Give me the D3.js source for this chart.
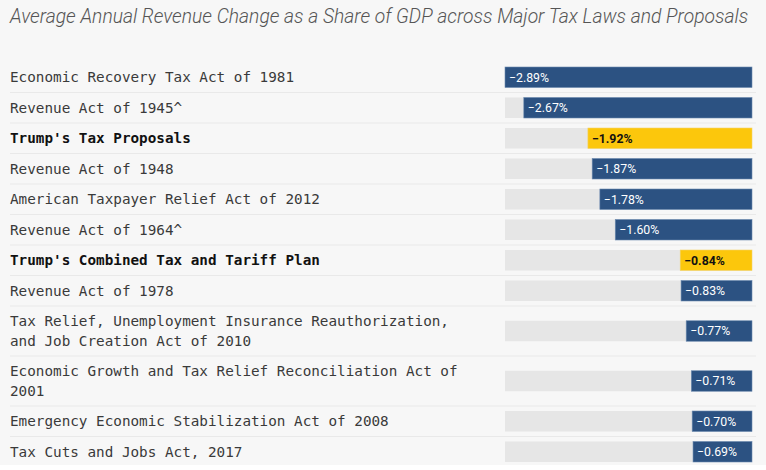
<!DOCTYPE html>
<html>
<head>
<meta charset="utf-8">
<script src="https://cdn.jsdelivr.net/npm/d3@7"></script>
<style>
  body { margin: 0; background: #fff; }
  #chart { background: #f7f7f7; width: 766px; }
  svg { display: block; }
  .title { font-family: Roboto, sans-serif; font-style: italic; font-weight: 300; fill: #555; }
  .label { font-family: "DejaVu Sans Mono", monospace; fill: #3a3a3a; }
  .label.is-trump { font-weight: bold; fill: #111; }
  .value { font-family: Roboto, sans-serif; font-size: 12.3px; }
</style>
</head>
<body>
<div id="chart"></div>
<script>
const laws = [
  "Economic Recovery Tax Act of 1981",
  "Revenue Act of 1945^",
  "Trump's Tax Proposals",
  "Revenue Act of 1948",
  "American Taxpayer Relief Act of 2012",
  "Revenue Act of 1964^",
  "Trump's Combined Tax and Tariff Plan",
  "Revenue Act of 1978",
  "Tax Relief, Unemployment Insurance Reauthorization, and Job Creation Act of 2010",
  "Economic Growth and Tax Relief Reconciliation Act of 2001",
  "Emergency Economic Stabilization Act of 2008",
  "Tax Cuts and Jobs Act, 2017",
];
const changes = [-2.89, -2.67, -1.92, -1.87, -1.78, -1.6, -0.84, -0.83, -0.77, -0.71, -0.7, -0.69];
const trumpRows = ["Trump's Tax Proposals", "Trump's Combined Tax and Tariff Plan"];

const width = 766;
const height = 465;
const margin = { top: 62, left: 10, right: 14 };
const labelWidth = 462;
const lineHeight = 19.5;
const fontSize = 14.3;

const data = laws.map((name, i) => ({ name, value: changes[i], trump: trumpRows.includes(name) }));

const svg = d3.select("#chart").append("svg").attr("width", width).attr("height", height);

svg.append("text")
  .attr("class", "title")
  .attr("x", 10)
  .attr("y", 23)
  .attr("font-size", 19.3)
  .text("Average Annual Revenue Change as a Share of GDP across Major Tax Laws and Proposals");

// wrap labels into lines by measured width
const measure = svg.append("text").attr("class", "label").attr("font-size", fontSize);
function wrap(name) {
  const words = name.split(" ");
  const lines = [];
  let line = "";
  words.forEach((w) => {
    const test = line ? line + " " + w : w;
    measure.text(test);
    if (measure.node().getComputedTextLength() > labelWidth && line) {
      lines.push(line);
      line = w;
    } else {
      line = test;
    }
  });
  lines.push(line);
  return lines;
}

let y0 = margin.top;
data.forEach((d) => {
  d.lines = wrap(d.name);
  d.h = d.lines.length * lineHeight + 11;
  d.y = y0;
  y0 += d.h;
});
measure.remove();

const x = d3.scaleLinear()
  .domain([d3.min(changes), 0])
  .range([505, width - margin.right]);

const fmt = (v) => d3.format(".2f")(v) + "%";
const barH = 20.5;

const row = svg.append("g").selectAll(".row")
  .data(data)
  .join("g")
  .attr("class", "row")
  .attr("transform", (d) => `translate(0,${d.y})`);

row.filter((d, i) => i < data.length - 1)
  .append("line")
  .attr("x1", 10)
  .attr("x2", width - 10)
  .attr("y1", (d) => d.h)
  .attr("y2", (d) => d.h)
  .attr("stroke", "#e9e9e9")
  .attr("stroke-width", 1);

row.append("text")
  .attr("class", (d) => "label" + (d.trump ? " is-trump" : ""))
  .attr("font-size", fontSize)
  .selectAll("tspan")
  .data((d) => d.lines.map((l, i) => ({ l, i, n: d.lines.length, h: d.h })))
  .join("tspan")
  .attr("x", margin.left)
  .attr("y", (t) => t.h / 2 + (t.i - (t.n - 1) / 2) * lineHeight)
  .attr("dy", "0.35em")
  .text((t) => t.l);

row.append("rect")
  .attr("x", x.range()[0])
  .attr("y", (d) => d.h / 2 - barH / 2)
  .attr("width", x.range()[1] - x.range()[0])
  .attr("height", barH)
  .attr("fill", "#e6e6e6");

row.append("rect")
  .attr("x", (d) => x(d.value))
  .attr("y", (d) => d.h / 2 - barH / 2)
  .attr("width", (d) => x(0) - x(d.value))
  .attr("height", barH)
  .attr("fill", (d) => (d.trump ? "#fcc70c" : "#2c5282"))
  .attr("stroke", (d) => (d.trump ? "#f3d36a" : "#6d8bb0"))
  .attr("stroke-width", 0.6);

row.append("text")
  .attr("class", "value")
  .attr("x", (d) => x(d.value) + 4)
  .attr("y", (d) => d.h / 2)
  .attr("dy", "0.36em")
  .attr("fill", (d) => (d.trump ? "#111" : "#fff"))
  .attr("font-weight", (d) => (d.trump ? 700 : 400))
  .text((d) => fmt(d.value));
</script>
</body>
</html>
